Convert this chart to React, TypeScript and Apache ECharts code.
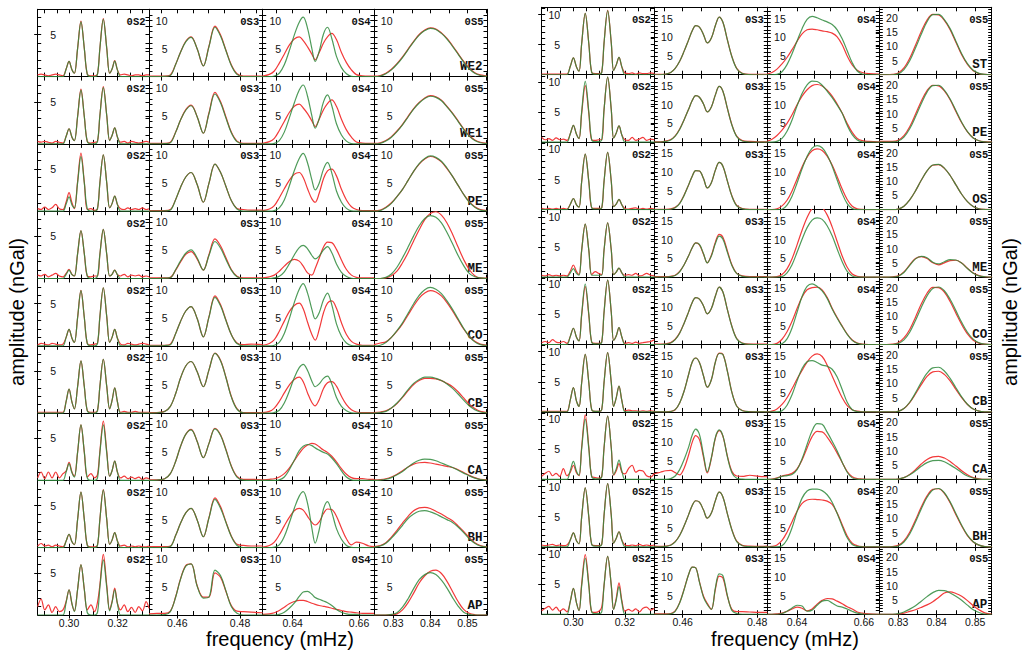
import React, { useEffect, useRef } from "react";
import * as echarts from "echarts";

// ---------- frequency grids (mHz), one per block and column ----------
const L_F2 = [0.2871,0.2885,0.2900,0.2915,0.2930,0.2945,0.2960,0.2975,0.2988,0.3000,0.3012,0.3022,0.3035,0.3049,0.3063,0.3075,0.3090,0.3105,0.3117,0.3127,0.3141,0.3155,0.3167,0.3177,0.3188,0.3199,0.3212,0.3227,0.3242,0.3257,0.3272,0.3287,0.3302,0.3317,0.3329];
const L_F3 = [0.4510,0.4535,0.4560,0.4578,0.4595,0.4610,0.4627,0.4644,0.4663,0.4683,0.4701,0.4720,0.4738,0.4755,0.4772,0.4790,0.4810,0.4835,0.4872];
const L_F4 = [0.6310,0.6330,0.6345,0.6360,0.6375,0.6390,0.6405,0.6420,0.6432,0.6445,0.6458,0.6468,0.6480,0.6493,0.6505,0.6518,0.6532,0.6547,0.6562,0.6577,0.6592,0.6610,0.6630,0.6645];
const L_F5 = [0.8248,0.8265,0.8280,0.8295,0.8310,0.8325,0.8340,0.8355,0.8370,0.8385,0.8400,0.8415,0.8430,0.8445,0.8460,0.8475,0.8490,0.8505,0.8520,0.8535,0.8553];
const R_F2 = [0.2877,0.2891,0.2905,0.2919,0.2933,0.2947,0.2961,0.2975,0.2988,0.3000,0.3012,0.3022,0.3032,0.3046,0.3060,0.3071,0.3085,0.3099,0.3110,0.3119,0.3133,0.3147,0.3156,0.3166,0.3177,0.3188,0.3200,0.3214,0.3228,0.3242,0.3256,0.3270,0.3284,0.3299,0.3314];
const R_F3 = [0.4524,0.4540,0.4555,0.4568,0.4580,0.4592,0.4604,0.4616,0.4626,0.4635,0.4645,0.4656,0.4666,0.4677,0.4688,0.4698,0.4708,0.4720,0.4732,0.4745,0.4760,0.4780,0.4805,0.4827];
const R_F4 = [0.6311,0.6325,0.6340,0.6355,0.6370,0.6385,0.6400,0.6415,0.6430,0.6445,0.6460,0.6475,0.6490,0.6505,0.6520,0.6535,0.6550,0.6565,0.6580,0.6595,0.6615,0.6646];
const R_F5 = [0.8251,0.8270,0.8285,0.8300,0.8315,0.8330,0.8345,0.8360,0.8375,0.8390,0.8405,0.8420,0.8435,0.8450,0.8465,0.8480,0.8495,0.8510,0.8525,0.8543];

// ---------- labels ----------
const LEFT_STATIONS = ["WE2","WE1","PE","ME","CO","CB","CA","BH","AP"];
const RIGHT_STATIONS = ["ST","PE","OS","ME","CO","CB","CA","BH","AP"];
const MODE_LABELS = ["0S2","0S3","0S4","0S5"];
const X_TICK_LABELS = [[0.30,0.32],[0.46,0.48],[0.64,0.66],[0.83,0.84,0.85]];
const LEFT_Y_LABELS = [[5],[5,10],[5,10],[5,10]];
const RIGHT_Y_LABELS = [[5,10],[5,10,15],[5,10,15],[5,10,15,20]];
const LEFT_X_RANGES = [[0.2871,0.3329],[0.4510,0.4872],[0.6310,0.6645],[0.8248,0.8553]];
const RIGHT_X_RANGES = [[0.2877,0.3314],[0.4524,0.4827],[0.6311,0.6646],[0.8251,0.8543]];
const LEFT_Y_MAX = [8,12,12,12];
const RIGHT_Y_MAX = [11.2,18,18,23.7];

// ---------- LEFT block, 0S2 ----------
const L_WE2_OS2_g = [0,0,0,0,0,0,0,0,0.9,1.8,0.8,0.4,3.3,6.5,3.3,0.3,0,0,0.3,3.4,6.8,3.4,0.4,0.9,1.85,0.8,0,0,0,0,0,0,0,0,0];
const L_WE2_OS2_r = [0.2,0.3,0.2,0.1,0.2,0.3,0.2,0.1,0.9,1.8,0.8,0.4,3.3,6.6,3.3,0.3,0.1,0.1,0.3,3.4,6.9,3.4,0.4,0.9,1.9,0.8,0.2,0.3,0.2,0.1,0.2,0.2,0.1,0.2,0.2];
const L_WE1_OS2_g = [0,0,0,0,0,0,0,0,0.9,1.8,0.8,0.4,3.2,6.4,3.2,0.3,0,0,0.3,3.4,6.7,3.4,0.4,1.0,1.9,0.85,0,0,0,0,0,0,0,0,0];
const L_WE1_OS2_r = [0.3,0.2,0.3,0.2,0.1,0.3,0.2,0.1,0.9,1.8,0.8,0.4,3.2,6.5,3.2,0.3,0.1,0.2,0.3,3.4,6.8,3.4,0.4,1.0,1.9,0.8,0.2,0.3,0.1,0.3,0.2,0.1,0.2,0.3,0.2];
const L_PE_OS2_g = [0,0,0,0,0,0,0,0,0.85,1.7,0.75,0.4,3.3,6.5,3.3,0.3,0,0,0.3,3.4,6.7,3.4,0.4,0.9,1.8,0.8,0,0,0,0,0,0,0,0,0];
const L_PE_OS2_r = [0.3,0.2,0.5,0.2,0.4,0.8,0.3,0.2,1.1,2.2,1.0,0.3,3.5,6.9,3.4,0.2,0.3,0.1,0.3,3.4,6.7,3.4,0.4,0.9,1.8,0.8,0.3,0.2,0.4,0.2,0.3,0.2,0.4,0.2,0.3];
const L_ME_OS2_g = [0,0,0,0,0,0,0,0,0.5,1.0,0.45,0.3,2.9,5.7,2.9,0.3,0,0,0.3,2.9,5.85,2.9,0.3,0.5,1.0,0.45,0,0,0,0,0,0,0,0,0];
const L_ME_OS2_r = [0.4,0.3,0.5,0.2,0.4,0.6,0.3,0.2,0.6,1.1,0.5,0.3,2.9,5.7,2.9,0.3,0.2,0.3,0.3,2.9,5.85,2.9,0.3,0.5,1.0,0.45,0.3,0.5,0.2,0.4,0.3,0.4,0.2,0.3,0.2];
const L_CO_OS2_g = [0,0,0,0,0,0,0,0,1.0,1.95,0.9,0.4,3.3,6.55,3.3,0.3,0,0,0.3,3.5,6.9,3.5,0.4,1.0,1.95,0.9,0,0,0,0,0,0,0,0,0];
const L_CO_OS2_r = [0.1,0.3,0.2,0.1,0.3,0.2,0.1,0.2,1.0,1.95,0.9,0.4,3.3,6.6,3.3,0.3,0.1,0.2,0.3,3.5,6.9,3.5,0.4,1.0,1.95,0.9,0.2,0.1,0.3,0.2,0.1,0.2,0.3,0.2,0.1];
const L_CB_OS2_g = [0,0,0,0,0,0,0,0,1.4,2.85,1.3,0.5,3.1,6.2,3.1,0.3,0,0,0.3,3.2,6.4,3.2,0.5,1.5,3.0,1.35,0,0,0,0,0,0,0,0,0];
const L_CB_OS2_r = [0.1,0.1,0.1,0.1,0.1,0.1,0.1,0.1,1.4,2.85,1.3,0.5,3.1,6.2,3.1,0.3,0.1,0.1,0.3,3.2,6.4,3.2,0.5,1.5,3.0,1.35,0.1,0.2,0.1,0.1,0.2,0.1,0.1,0.1,0.1];
const L_CA_OS2_g = [0,0,0,0,0,0,0,0,1.0,2.0,0.9,0.4,3.3,6.6,3.3,0.3,0,0,0.3,3.3,6.6,3.3,0.5,1.15,2.3,1.0,0,0,0,0,0,0,0,0,0];
const L_CA_OS2_r = [0.3,1.0,0.2,1.0,0.3,1.0,0.3,0.8,1.1,2.15,1.0,0.5,3.3,6.6,3.3,0.4,0.8,0.3,0.7,3.5,7.05,3.5,0.5,1.15,2.3,1.0,0.3,0.5,0.2,0.4,0.2,0.4,0.1,0.3,0.2];
const L_BH_OS2_g = [0,0,0,0,0,0,0,0,0.8,1.6,0.7,0.35,3.3,6.6,3.3,0.3,0,0,0.3,3.4,6.85,3.4,0.4,0.9,1.8,0.8,0,0,0,0,0,0,0,0,0];
const L_BH_OS2_r = [0.2,0.5,0.2,0.3,0.1,0.3,0.2,0.1,0.8,1.6,0.7,0.35,3.3,6.6,3.3,0.3,0.1,0.1,0.3,3.4,6.9,3.4,0.4,0.9,1.8,0.8,0.2,0.3,0.1,0.2,0.1,0.2,0.1,0.1,0.2];
const L_AP_OS2_g = [0,0,0,0,0,0,0,0,1.5,3.0,1.35,0.4,3.0,6.0,3.0,0.3,0,0,0.3,3.3,6.55,3.3,0.5,1.5,3.0,1.35,0,0,0,0,0,0,0,0,0];
const L_AP_OS2_r = [1.0,1.9,0.6,1.2,0.3,1.0,0.4,0.6,1.6,3.0,1.3,0.5,3.0,6.0,3.0,0.6,1.2,0.4,1.5,3.6,7.2,3.6,0.6,1.6,3.2,1.4,0.6,1.2,0.4,0.9,0.3,1.0,0.5,1.6,0.8];

// ---------- LEFT block, 0S3 ----------
const L_WE2_OS3_g = [0,0,0.05,0.2,2.2,4.3,6.2,7.0,5.0,1.9,5.35,8.8,7.2,4.6,2.0,0.4,0,0,0];
const L_WE2_OS3_r = [0.1,0.1,0.1,0.3,2.2,4.3,6.3,7.1,5.0,1.9,5.45,9.0,7.4,4.7,2.1,0.5,0.1,0.1,0.1];
const L_WE1_OS3_g = [0,0,0.05,0.2,2.1,4.2,6.0,6.8,4.9,1.9,5.4,8.9,7.3,4.6,2.0,0.4,0,0,0];
const L_WE1_OS3_r = [0.1,0.1,0.1,0.3,2.1,4.2,6.1,6.9,4.9,1.9,5.55,9.2,7.5,4.8,2.1,0.5,0.1,0.1,0.1];
const L_PE_OS3_g = [0,0,0.05,0.2,2.1,4.2,6.1,6.9,4.8,1.6,5.0,8.4,6.9,4.4,1.9,0.4,0,0,0];
const L_PE_OS3_r = [0.1,0.1,0.1,0.3,2.1,4.2,6.1,6.9,4.8,1.6,5.0,8.4,6.9,4.4,1.9,0.5,0.3,0.2,0.2];
const L_ME_OS3_g = [0,0,0.05,0.15,1.6,3.1,4.5,5.1,3.7,1.5,4.1,6.6,5.4,3.4,1.5,0.3,0,0,0];
const L_ME_OS3_r = [0.1,0.1,0.1,0.2,1.5,2.9,4.3,4.8,3.5,1.5,4.3,7.05,5.8,3.7,1.6,0.4,0.1,0.1,0.1];
const L_CO_OS3_g = [0,0,0.05,0.2,2.2,4.3,6.2,7.0,4.9,1.6,5.1,8.65,7.1,4.5,2.0,0.4,0,0,0];
const L_CO_OS3_r = [0.1,0.1,0.1,0.3,2.2,4.3,6.2,7.0,4.9,1.6,5.2,8.9,7.3,4.6,2.0,0.5,0.2,0.3,0.2];
const L_CB_OS3_g = [0,0.05,0.3,1.2,3.5,6.2,8.4,9.2,7.4,4.7,7.7,10.65,9.3,6.3,2.9,0.7,0.05,0,0];
const L_CB_OS3_r = [0.1,0.1,0.3,1.2,3.5,6.2,8.4,9.2,7.4,4.7,7.7,10.7,9.4,6.4,3.0,0.8,0.1,0.1,0.1];
const L_CA_OS3_g = [0,0.05,0.3,1.2,3.4,6.0,8.2,9.0,7.0,4.05,6.6,9.2,8.0,5.4,2.5,0.6,0.05,0,0];
const L_CA_OS3_r = [0.1,0.1,0.3,1.2,3.4,6.0,8.2,9.1,7.0,4.05,6.6,9.3,8.1,5.5,2.6,0.7,0.2,0.2,0.1];
const L_BH_OS3_g = [0,0,0.05,0.2,2.2,4.3,6.2,7.0,5.0,1.95,5.3,8.6,7.0,4.5,2.0,0.4,0,0,0];
const L_BH_OS3_r = [0.2,0.2,0.2,0.3,2.2,4.3,6.2,7.0,5.0,1.95,5.4,8.9,7.3,4.6,2.1,0.6,0.4,0.3,0.3];
const L_AP_OS3_g = [0,0,0.05,0.6,3.2,6.3,8.7,9.1,5.2,3.0,3.2,8.0,7.0,4.3,1.5,0.3,0,0,0];
const L_AP_OS3_r = [0.2,0.3,0.3,0.7,3.3,6.4,8.8,9.1,5.3,3.2,3.2,7.5,6.7,4.2,1.7,0.7,0.6,0.5,0.4];

// ---------- LEFT block, 0S4 ----------
const L_WE2_OS4_g = [0,0,0.1,0.6,2.1,4.6,7.4,9.7,10.6,8.6,5.0,2.7,4.5,7.6,8.8,6.8,3.6,1.6,0.5,0.05,0,0,0,0];
const L_WE2_OS4_r = [0.1,0.4,1.0,2.4,4.0,5.6,6.7,7.1,6.4,5.3,4.0,3.0,4.3,6.0,7.1,7.7,6.6,4.3,2.5,1.2,0.35,0.15,0.1,0.1];
const L_WE1_OS4_g = [0,0,0.1,0.6,2.1,4.6,7.3,9.6,10.5,8.5,5.0,2.8,4.5,7.5,8.75,6.8,3.6,1.6,0.5,0.05,0,0,0,0];
const L_WE1_OS4_r = [0.1,0.4,1.0,2.4,4.0,5.6,6.7,7.1,6.4,5.4,4.1,3.1,4.4,6.1,7.2,7.85,6.7,4.4,2.5,1.2,0.35,0.15,0.1,0.1];
const L_PE_OS4_g = [0,0,0.1,0.6,2.0,4.5,7.2,9.4,10.3,8.6,5.6,3.8,5.0,7.5,8.7,6.8,3.6,1.6,0.5,0.05,0,0,0,0];
const L_PE_OS4_r = [0.1,0.4,1.0,2.4,4.0,5.5,6.6,6.9,6.0,4.0,2.2,1.6,3.2,5.8,7.2,7.5,6.3,3.9,2.0,0.8,0.3,0.1,0.1,0.1];
const L_ME_OS4_g = [0,0,0.1,0.4,1.2,2.6,4.2,5.5,5.9,5.3,4.1,3.5,4.0,5.1,5.7,4.6,2.6,1.1,0.35,0.05,0,0,0,0];
const L_ME_OS4_r = [0.1,0.3,0.6,1.3,2.2,3.0,3.4,3.1,2.2,1.0,0.6,1.8,3.6,5.6,6.5,6.4,5.2,3.3,1.6,0.6,0.2,0.1,0.1,0.1];
const L_CO_OS4_g = [0,0,0.1,0.6,2.2,4.8,7.7,10.1,11.1,9.4,6.5,4.8,5.9,8.2,9.4,7.3,3.9,1.7,0.5,0.05,0,0,0,0];
const L_CO_OS4_r = [0.1,0.4,1.1,2.6,4.4,6.1,7.2,7.6,6.6,4.2,2.0,1.0,2.9,5.9,7.6,8.0,6.7,4.1,2.0,0.8,0.3,0.1,0.1,0.1];
const L_CB_OS4_g = [0,0,0.1,0.5,1.8,3.9,6.3,8.1,8.7,7.6,5.7,4.7,5.2,6.2,6.6,5.2,2.8,1.2,0.4,0.05,0,0,0,0];
const L_CB_OS4_r = [0.1,0.3,0.9,2.1,3.6,5.0,6.0,6.4,5.6,3.6,1.9,1.3,2.4,4.4,5.4,5.6,4.8,3.0,1.5,0.6,0.2,0.1,0.1,0.1];
const L_CA_OS4_g = [0,0,0,0.1,0.6,1.9,3.6,5.3,6.1,6.4,6.2,5.8,5.4,5.0,4.7,4.0,3.0,1.7,0.6,0.1,0,0,0,0];
const L_CA_OS4_r = [0.1,0.2,0.3,0.6,1.2,2.2,3.5,4.8,5.7,6.3,6.6,6.5,6.0,5.4,5.0,4.3,3.3,2.1,1.1,0.5,0.3,0.3,0.2,0.2];
const L_BH_OS4_g = [0,0,0.1,0.5,2.0,4.4,7.0,9.2,10.0,7.9,3.5,0.8,3.2,6.9,8.2,6.3,3.4,1.5,0.4,0.05,0,0,0,0];
const L_BH_OS4_r = [0.1,0.4,1.0,2.3,3.9,5.4,6.6,7.0,6.7,5.6,4.5,4.05,4.6,6.1,6.9,6.8,5.6,3.5,1.6,0.5,1.0,0.8,0.3,0.2];
const L_AP_OS4_g = [0,0,0,0.1,0.5,1.2,2.1,3.3,4.1,4.2,3.7,3.1,2.8,2.5,2.2,1.7,1.0,0.5,0.2,0.1,0.1,0,0,0];
const L_AP_OS4_r = [0.1,0.2,0.4,0.8,1.4,2.0,2.4,2.6,2.6,2.4,2.1,1.9,1.7,1.55,1.4,1.2,1.0,0.8,0.6,0.5,0.4,0.3,0.3,0.3];

// ---------- LEFT block, 0S5 ----------
const L_WE2_OS5_g = [0,0.1,0.5,1.2,2.2,3.4,4.8,6.2,7.4,8.2,8.6,8.4,7.7,6.7,5.4,4.0,2.6,1.4,0.6,0.2,0.05];
const L_WE2_OS5_r = [0.1,0.2,0.6,1.3,2.3,3.5,4.9,6.3,7.5,8.3,8.7,8.5,7.8,6.8,5.5,4.1,2.7,1.5,0.7,0.3,0.1];
const L_WE1_OS5_g = [0,0.1,0.5,1.2,2.2,3.4,4.8,6.2,7.3,8.1,8.5,8.3,7.7,6.6,5.4,4.0,2.6,1.4,0.6,0.2,0.05];
const L_WE1_OS5_r = [0.1,0.2,0.6,1.3,2.3,3.5,4.9,6.3,7.4,8.2,8.6,8.4,7.8,6.7,5.5,4.1,2.7,1.5,0.7,0.3,0.1];
const L_PE_OS5_g = [0,0.1,0.6,1.4,2.6,3.9,5.5,7.1,8.5,9.4,9.85,9.6,8.9,7.7,6.2,4.6,3.0,1.6,0.7,0.2,0.05];
const L_PE_OS5_r = [0.1,0.2,0.7,1.5,2.6,3.9,5.5,7.1,8.4,9.3,9.75,9.5,8.8,7.6,6.2,4.6,3.0,1.7,0.8,0.3,0.1];
const L_ME_OS5_g = [0,0,0.2,0.8,2.0,3.7,5.6,7.6,9.4,10.7,11.2,10.9,9.9,8.2,6.2,4.1,2.3,0.9,0.3,0.1,0];
const L_ME_OS5_r = [0,0,0.1,0.5,1.3,2.8,4.6,6.7,8.7,10.5,11.6,11.9,11.3,9.9,7.9,5.6,3.4,1.6,0.5,0.1,0.05];
const L_CO_OS5_g = [0,0.1,0.6,1.5,2.7,4.1,5.8,7.5,9.0,10.0,10.4,10.1,9.3,8.0,6.5,4.8,3.1,1.7,0.7,0.2,0.05];
const L_CO_OS5_r = [0.2,0.5,0.7,1.5,2.6,3.9,5.5,7.1,8.5,9.4,9.85,9.6,8.9,7.7,6.2,4.6,3.0,1.7,0.8,0.3,0.1];
const L_CB_OS5_g = [0,0.1,0.3,0.9,1.8,2.9,4.2,5.3,6.0,6.4,6.4,6.2,5.8,5.2,4.4,3.4,2.3,1.3,0.6,0.2,0.05];
const L_CB_OS5_r = [0.1,0.2,0.4,0.9,1.7,2.8,4.0,5.1,5.8,6.2,6.2,6.1,5.8,5.3,4.7,3.8,2.7,1.6,0.8,0.3,0.1];
const L_CA_OS5_g = [0,0.05,0.2,0.5,1.0,1.6,2.4,3.1,3.6,3.8,3.75,3.5,3.1,2.7,2.3,1.8,1.3,0.8,0.4,0.15,0.05];
const L_CA_OS5_r = [0.1,0.15,0.3,0.6,1.1,1.7,2.4,2.9,3.15,3.2,3.1,2.9,2.7,2.5,2.3,1.9,1.4,0.9,0.5,0.2,0.1];
const L_BH_OS5_g = [0.1,0.3,0.8,1.7,2.8,4.0,5.2,6.0,6.5,6.6,6.4,6.0,5.5,5.0,4.5,3.7,2.7,1.6,0.8,0.3,0.1];
const L_BH_OS5_r = [0.2,0.4,0.9,1.9,3.1,4.4,5.6,6.6,7.1,7.2,7.0,6.5,6.0,5.4,4.8,3.9,2.9,1.8,0.9,0.4,0.15];
const L_AP_OS5_g = [0,0,0,0.1,0.4,1.4,2.9,4.7,6.3,7.2,7.55,7.2,6.2,4.8,3.1,1.6,0.5,0.1,0,0,0];
const L_AP_OS5_r = [0,0,0,0.05,0.2,0.9,2.2,3.9,5.7,7.0,7.8,8.0,7.4,6.0,4.2,2.4,1.0,0.3,0.05,0,0];

// ---------- RIGHT block, 0S2 ----------
const R_ST_OS2_g = [0,0,0,0,0,0,0,0,1.4,2.8,1.3,0.6,5.1,10.2,5.1,0.4,0.1,0.1,0.4,5.3,10.6,5.3,0.7,1.6,2.9,1.3,0,0,0,0,0,0,0,0,0];
const R_ST_OS2_r = [0.1,0.1,0.1,0.1,0.1,0.1,0.1,0.1,1.4,2.8,1.3,0.6,5.1,10.2,5.1,0.4,0.2,0.2,0.4,5.3,10.7,5.3,0.7,1.6,2.9,1.3,0.3,0.2,0.3,0.1,0.3,0.2,0.2,0.3,0.2];
const R_PE_OS2_g = [0,0,0,0,0,0,0,0,1.4,2.8,1.3,0.6,5.0,10.1,5.0,0.4,0.1,0.1,0.4,5.4,10.8,5.4,0.7,1.5,2.7,1.2,0,0,0,0,0,0,0,0,0];
const R_PE_OS2_r = [0.8,0.4,0.6,0.3,0.7,0.4,0.5,0.3,1.4,2.8,1.3,0.6,4.7,9.4,4.7,0.4,0.3,0.4,0.4,5.4,10.8,5.4,0.7,1.5,2.7,1.2,0.4,0.3,0.8,0.3,0.5,0.8,0.3,0.5,0.4];
const R_OS_OS2_g = [0,0,0,0,0,0,0,0,0.9,1.85,0.8,0.4,4.6,9.2,4.6,0.3,0.1,0.1,0.3,4.7,9.5,4.7,0.5,0.9,1.7,0.8,0,0,0,0,0,0,0,0,0];
const R_OS_OS2_r = [0.2,0.1,0.2,0.1,0.2,0.1,0.2,0.1,0.9,1.85,0.8,0.4,4.6,9.2,4.6,0.3,0.2,0.2,0.3,4.7,9.5,4.7,0.5,0.9,1.7,0.8,0.2,0.1,0.2,0.3,0.1,0.2,0.1,0.2,0.1];
const R_ME_OS2_g = [0,0,0,0,0,0,0,0,0.7,1.4,0.6,0.3,4.4,8.8,4.4,0.3,0.3,0.3,0.3,4.5,9.0,4.5,0.4,0.8,1.5,0.7,0,0,0,0,0,0,0,0,0];
const R_ME_OS2_r = [0.3,0.2,0.4,0.2,0.3,0.2,0.3,0.2,1.0,2.0,0.9,0.4,4.4,8.8,4.4,0.4,0.9,0.6,0.4,4.5,9.0,4.5,0.4,0.8,1.5,0.7,0.3,0.4,0.3,0.6,0.2,0.3,0.6,0.3,0.2];
const R_CO_OS2_g = [0,0,0,0,0,0,0,0,1.35,2.7,1.2,0.6,5.0,10.05,5.0,0.4,0.1,0.1,0.4,5.35,10.7,5.35,0.7,1.4,2.8,1.25,0,0,0,0,0,0,0,0,0];
const R_CO_OS2_r = [0.3,0.5,0.3,0.8,0.4,0.3,0.5,0.2,1.35,2.7,1.2,0.6,4.8,9.6,4.8,0.4,0.2,0.2,0.4,5.35,10.7,5.35,0.7,1.4,2.8,1.25,0.2,0.3,0.2,0.4,0.2,0.3,0.4,0.5,0.8];
const R_CB_OS2_g = [0,0,0,0,0,0,0,0,2.0,4.05,1.8,0.9,4.8,9.55,4.8,0.4,0.1,0.1,0.4,4.9,9.85,4.9,0.9,2.3,4.3,1.9,0,0,0,0,0,0,0,0,0];
const R_CB_OS2_r = [0.1,0.1,0.1,0.1,0.1,0.1,0.1,0.1,2.0,4.05,1.8,0.9,4.8,9.55,4.8,0.4,0.1,0.1,0.4,4.9,9.85,4.9,0.9,2.3,4.3,1.9,0.2,0.3,0.2,0.2,0.1,0.2,0.1,0.2,0.1];
const R_CA_OS2_g = [0,0,0,0,0,0,0,0,1.5,3.0,1.35,0.7,5.0,10.0,5.0,0.4,0.1,0.1,0.4,5.25,10.5,5.25,0.8,1.7,3.2,1.4,0,0,0,0,0,0,0,0,0];
const R_CA_OS2_r = [0.5,1.0,1.35,0.6,1.0,0.5,1.8,0.6,1.2,2.35,1.1,0.6,5.3,10.7,5.3,0.5,0.3,0.2,0.5,5.25,10.5,5.25,0.7,1.4,2.6,1.2,0.9,1.8,2.35,1.2,1.5,1.4,0.6,0.4,1.0];
const R_BH_OS2_g = [0,0,0,0,0,0,0,0,1.15,2.3,1.0,0.5,4.9,9.8,4.9,0.4,0.1,0.1,0.4,5.25,10.5,5.25,0.6,1.4,2.5,1.1,0,0,0,0,0,0,0,0,0];
const R_BH_OS2_r = [0.3,0.2,0.3,0.4,0.2,0.3,0.2,0.3,1.15,2.3,1.0,0.5,4.9,9.8,4.9,0.4,0.2,0.2,0.4,5.25,10.5,5.25,0.6,1.4,2.5,1.1,0.3,0.2,0.3,0.2,0.4,0.2,0.3,0.2,0.3];
const R_AP_OS2_g = [0,0,0,0,0,0,0,0,2.15,4.3,1.9,0.6,4.65,9.3,4.65,0.4,0.1,0.1,0.4,4.8,9.6,4.8,0.8,2.3,4.6,2.0,0,0,0,0,0,0,0,0,0];
const R_AP_OS2_r = [0.6,1.0,1.3,0.7,1.2,0.5,0.9,0.4,2.15,4.3,1.9,0.6,5.0,9.9,4.95,0.4,0.3,0.5,1.2,4.8,9.6,4.8,0.8,2.6,5.2,2.3,0.5,0.8,0.5,0.9,0.4,1.0,1.2,0.7,1.0];

// ---------- RIGHT block, 0S3 ----------
const R_ST_OS3_g = [0,0,0.2,0.6,1.7,3.6,6.3,9.3,11.8,13.1,12.7,10.7,8.5,9.8,13.2,15.4,14.0,9.3,4.8,1.6,0.3,0.05,0,0];
const R_ST_OS3_r = [0.1,0.1,0.2,0.6,1.7,3.6,6.3,9.3,11.8,13.1,12.7,10.7,8.5,9.8,13.2,15.4,14.0,9.3,4.9,1.7,0.4,0.1,0.1,0.1];
const R_PE_OS3_g = [0,0,0.2,0.6,1.6,3.4,6.0,8.8,11.2,12.4,12.0,10.2,8.1,9.4,12.7,14.9,13.6,9.0,4.6,1.5,0.3,0.05,0,0];
const R_PE_OS3_r = [0.1,0.1,0.3,0.7,1.7,3.5,6.0,8.8,11.2,12.4,12.0,10.2,8.1,9.4,12.7,14.9,13.6,9.0,4.7,1.6,0.4,0.2,0.1,0.1];
const R_OS_OS3_g = [0,0,0,0.1,0.5,1.6,3.8,6.6,9.0,10.4,10.3,8.3,5.8,7.2,10.6,12.6,11.6,7.6,3.6,1.0,0.2,0,0,0];
const R_OS_OS3_r = [0.1,0.1,0.1,0.2,0.6,1.7,3.9,6.6,9.0,10.4,10.3,8.3,5.8,7.2,10.6,12.6,11.6,7.6,3.7,1.1,0.3,0.1,0.1,0.1];
const R_ME_OS3_g = [0,0,0,0.1,0.4,1.4,3.3,5.7,7.9,9.1,8.7,6.2,3.8,5.6,9.0,10.9,10.1,6.6,3.1,0.9,0.2,0,0,0];
const R_ME_OS3_r = [0.1,0.1,0.1,0.2,0.5,1.5,3.3,5.7,7.9,9.1,8.6,6.1,3.8,5.8,9.4,11.4,10.6,7.0,3.3,1.0,0.3,0.1,0.1,0.1];
const R_CO_OS3_g = [0,0,0.1,0.4,1.3,3.0,5.7,8.7,11.3,12.5,12.1,10.3,8.2,9.6,13.0,15.3,14.0,9.3,4.8,1.5,0.3,0.05,0,0];
const R_CO_OS3_r = [0.1,0.1,0.2,0.5,1.4,3.1,5.7,8.7,11.3,12.5,12.1,10.3,8.2,9.6,13.0,15.3,14.0,9.3,4.9,1.6,0.4,0.1,0.1,0.1];
const R_CB_OS3_g = [0,0,0,0.1,0.6,2.4,5.6,10.0,13.4,14.4,13.2,9.6,6.6,8.6,13.4,15.6,15.3,10.8,5.2,1.5,0.3,0.05,0,0];
const R_CB_OS3_r = [0.05,0.05,0.05,0.15,0.6,2.4,5.6,10.0,13.4,14.4,13.2,9.6,6.6,8.6,13.4,15.7,15.4,10.9,5.3,1.6,0.4,0.1,0.05,0.05];
const R_CA_OS3_g = [0,0,0,0.2,0.9,2.6,5.3,8.6,11.9,13.4,12.0,6.5,2.0,5.8,11.3,13.2,11.6,6.0,1.8,0.3,0.05,0,0,0];
const R_CA_OS3_r = [1.5,1.9,2.3,2.4,1.8,1.2,3.0,6.5,10.0,11.7,10.6,5.9,1.7,5.6,11.1,13.0,11.5,6.2,2.2,0.9,0.8,1.1,0.8,0.7];
const R_BH_OS3_g = [0,0,0.1,0.4,1.3,3.0,5.6,8.6,11.1,12.3,11.9,9.8,7.65,9.0,12.4,14.6,13.3,8.8,4.5,1.4,0.3,0.05,0,0];
const R_BH_OS3_r = [0.2,0.1,0.2,0.5,1.4,3.1,5.6,8.6,11.1,12.3,11.9,9.8,7.65,9.0,12.4,14.6,13.3,8.8,4.6,1.5,0.4,0.2,0.1,0.2];
const R_AP_OS3_g = [0,0,0,0.1,0.8,3.0,6.6,10.6,12.6,12.4,8.6,4.5,2.6,1.3,7.2,10.8,10.3,5.0,1.0,0.2,0,0,0,0];
const R_AP_OS3_r = [0.1,0.1,0.1,0.2,0.9,3.1,6.7,10.6,12.6,12.4,8.7,4.8,2.9,1.3,6.8,10.2,9.7,4.8,1.3,0.7,0.7,0.6,0.5,0.5];

// ---------- RIGHT block, 0S4 ----------
const R_ST_OS4_g = [0,0,0.1,0.8,2.7,5.6,9.0,12.3,14.8,15.6,15.2,14.6,14.1,13.4,12.0,9.6,6.4,3.2,1.0,0.2,0,0];
const R_ST_OS4_r = [0.2,0.6,1.5,2.9,4.6,6.7,8.9,10.9,12.0,12.2,12.0,11.7,11.5,11.1,10.1,8.0,5.0,2.6,1.2,0.6,0.3,0.2];
const R_PE_OS4_g = [0,0,0.2,1.0,2.9,5.9,9.7,13.0,15.3,16.3,16.2,15.2,13.6,11.9,9.9,7.7,4.5,2.0,0.6,0.1,0,0];
const R_PE_OS4_r = [0.3,0.8,1.8,3.2,5.0,7.3,10.0,12.3,14.0,15.1,15.4,15.0,13.9,12.3,10.2,7.8,5.0,2.6,1.0,0.4,0.2,0.1];
const R_OS_OS4_g = [0,0,0,0.1,1.2,3.6,7.1,10.9,14.2,16.4,17.1,16.5,14.6,11.6,7.9,4.3,1.6,0.3,0,0,0,0];
const R_OS_OS4_r = [0,0,0.2,1.0,2.5,5.0,8.2,11.4,14.0,15.7,16.2,15.8,14.3,11.9,8.8,5.5,2.7,0.9,0.2,0.05,0,0];
const R_ME_OS4_g = [0,0,0,0.1,1.1,3.3,6.6,10.1,13.2,15.2,15.8,15.4,13.7,11.0,7.5,4.1,1.5,0.3,0,0,0,0];
const R_ME_OS4_r = [0,0,0.1,0.7,2.2,4.9,8.6,12.5,15.9,18.3,19.2,18.6,16.6,13.4,9.5,5.6,2.6,0.8,0.2,0.05,0,0];
const R_CO_OS4_g = [0,0,0,0.2,1.5,4.4,8.6,12.8,15.5,16.2,15.5,14.3,12.3,9.5,7.0,4.8,2.7,1.1,0.3,0.05,0,0];
const R_CO_OS4_r = [0,0,0.3,1.4,3.4,6.2,9.6,12.7,14.6,15.2,15.3,14.6,12.6,9.7,7.2,4.9,2.8,1.2,0.4,0.1,0,0];
const R_CB_OS4_g = [0,0,0,0.3,1.8,4.6,8.3,11.6,13.4,13.7,13.2,12.5,12.2,11.4,9.3,6.0,2.6,0.6,0.1,0,0,0];
const R_CB_OS4_r = [0,0.2,0.8,2.0,3.8,6.2,8.8,11.1,13.3,14.9,15.5,14.8,12.5,9.6,6.6,3.8,1.7,0.6,0.2,0.05,0,0];
const R_CA_OS4_g = [0,0,0.3,0.8,1.0,1.3,2.6,5.5,9.3,13.0,14.9,14.7,12.6,10.2,7.6,4.6,1.9,0.4,0.05,0,0,0];
const R_CA_OS4_r = [0,0.1,0.4,0.9,1.2,1.6,2.8,5.2,8.4,11.4,12.8,12.7,11.3,9.3,7.0,4.5,2.1,0.7,0.2,0.1,0,0];
const R_BH_OS4_g = [0,0,0,0.3,1.9,5.1,9.4,13.0,14.9,15.4,15.4,15.0,13.9,11.9,8.9,5.5,2.4,0.6,0.1,0,0,0];
const R_BH_OS4_r = [0,0.1,0.5,1.7,3.9,6.7,9.5,11.6,12.5,12.7,12.6,12.5,12.2,11.3,9.0,5.9,2.9,1.0,0.3,0.05,0,0];
const R_AP_OS4_g = [0,0,0,0.2,0.8,1.7,2.4,2.2,0.8,1.1,2.4,3.5,3.7,3.0,2.2,1.9,1.4,0.8,0.3,0.05,0,0];
const R_AP_OS4_r = [0,0,0.1,0.3,0.8,1.4,1.9,1.6,0.9,1.4,2.7,3.7,4.2,4.1,3.5,2.8,2.0,1.4,0.6,0.3,0.1,0];

// ---------- RIGHT block, 0S5 ----------
const R_ST_OS5_g = [0,0,0,0.3,1.8,4.9,9.4,14.2,18.6,21.1,21.2,19.4,16.2,11.8,7.4,3.9,1.6,0.5,0.1,0];
const R_ST_OS5_r = [0,0,0.1,0.6,2.4,5.8,10.4,15.2,19.2,21.2,21.0,19.1,15.8,11.4,7.0,3.6,1.4,0.4,0.1,0];
const R_PE_OS5_g = [0,0,0.1,0.4,1.8,4.7,8.9,13.5,17.6,19.9,20.0,18.3,15.2,11.1,7.0,3.7,1.5,0.5,0.1,0];
const R_PE_OS5_r = [0.3,0.3,0.3,0.7,2.3,5.4,9.8,14.4,18.1,20.0,19.8,18.0,14.9,10.8,6.8,3.6,1.5,0.5,0.2,0.1];
const R_OS_OS5_g = [0,0,0,0.2,1.2,3.4,6.6,10.3,13.6,15.7,15.9,14.6,12.0,8.7,5.4,2.8,1.1,0.3,0.05,0];
const R_OS_OS5_r = [0,0,0,0.2,1.2,3.4,6.6,10.3,13.6,15.6,15.8,14.5,12.0,8.7,5.4,2.8,1.1,0.3,0.1,0.05];
const R_ME_OS5_g = [0,0,0,0.3,1.6,4.1,6.4,7.3,6.8,5.2,4.6,5.4,6.1,6.0,4.9,3.0,1.3,0.4,0.1,0];
const R_ME_OS5_r = [0,0,0.1,0.4,1.8,4.3,6.5,7.2,6.5,5.0,4.3,5.0,5.8,5.9,4.9,3.1,1.4,0.5,0.1,0];
const R_CO_OS5_g = [0,0,0,0.3,1.6,4.3,8.4,13.0,17.1,19.7,20.2,18.9,15.9,11.9,7.8,4.3,1.9,0.6,0.1,0];
const R_CO_OS5_r = [0,0,0.1,0.6,2.3,5.3,9.6,14.2,18.0,20.1,20.0,18.4,15.1,11.0,7.0,3.7,1.5,0.5,0.1,0];
const R_CB_OS5_g = [0,0,0,0.2,1.2,3.4,6.7,10.4,13.6,15.5,15.7,14.4,11.8,8.5,5.3,2.7,1.0,0.3,0.05,0];
const R_CB_OS5_r = [0,0,0,0.2,1.2,3.3,6.3,9.6,12.5,14.1,14.3,13.2,10.9,7.9,5.0,2.6,1.0,0.3,0.05,0];
const R_CA_OS5_g = [0,0,0,0.1,0.6,1.6,3.0,4.6,5.9,6.6,6.7,6.2,5.1,3.8,2.4,1.2,0.5,0.1,0,0];
const R_CA_OS5_r = [0,0,0,0.1,0.6,1.7,3.4,5.4,7.0,7.9,8.1,7.5,6.3,4.7,3.0,1.6,0.6,0.2,0,0];
const R_BH_OS5_g = [0,0,0,0.3,1.7,4.5,8.7,13.3,17.4,20.0,20.5,19.0,15.8,11.7,7.6,4.1,1.8,0.6,0.1,0];
const R_BH_OS5_r = [0,0,0.1,0.5,2.1,5.1,9.4,14.0,17.9,20.2,20.4,18.8,15.5,11.3,7.3,3.9,1.7,0.6,0.1,0];
const R_AP_OS5_g = [0,0,0,0.2,0.8,1.8,3.0,4.6,6.2,7.6,8.4,8.3,7.5,6.3,4.9,3.2,1.6,0.6,0.1,0];
const R_AP_OS5_r = [0,0,0,0.1,0.4,1.0,1.6,2.4,3.3,4.4,5.9,7.5,7.9,7.3,6.3,4.8,3.0,1.6,0.5,0.1];

// ---------- tables built from the arrays above ----------
const LEFT_GREEN = [
  [L_WE2_OS2_g, L_WE2_OS3_g, L_WE2_OS4_g, L_WE2_OS5_g],
  [L_WE1_OS2_g, L_WE1_OS3_g, L_WE1_OS4_g, L_WE1_OS5_g],
  [L_PE_OS2_g, L_PE_OS3_g, L_PE_OS4_g, L_PE_OS5_g],
  [L_ME_OS2_g, L_ME_OS3_g, L_ME_OS4_g, L_ME_OS5_g],
  [L_CO_OS2_g, L_CO_OS3_g, L_CO_OS4_g, L_CO_OS5_g],
  [L_CB_OS2_g, L_CB_OS3_g, L_CB_OS4_g, L_CB_OS5_g],
  [L_CA_OS2_g, L_CA_OS3_g, L_CA_OS4_g, L_CA_OS5_g],
  [L_BH_OS2_g, L_BH_OS3_g, L_BH_OS4_g, L_BH_OS5_g],
  [L_AP_OS2_g, L_AP_OS3_g, L_AP_OS4_g, L_AP_OS5_g],
];
const LEFT_RED = [
  [L_WE2_OS2_r, L_WE2_OS3_r, L_WE2_OS4_r, L_WE2_OS5_r],
  [L_WE1_OS2_r, L_WE1_OS3_r, L_WE1_OS4_r, L_WE1_OS5_r],
  [L_PE_OS2_r, L_PE_OS3_r, L_PE_OS4_r, L_PE_OS5_r],
  [L_ME_OS2_r, L_ME_OS3_r, L_ME_OS4_r, L_ME_OS5_r],
  [L_CO_OS2_r, L_CO_OS3_r, L_CO_OS4_r, L_CO_OS5_r],
  [L_CB_OS2_r, L_CB_OS3_r, L_CB_OS4_r, L_CB_OS5_r],
  [L_CA_OS2_r, L_CA_OS3_r, L_CA_OS4_r, L_CA_OS5_r],
  [L_BH_OS2_r, L_BH_OS3_r, L_BH_OS4_r, L_BH_OS5_r],
  [L_AP_OS2_r, L_AP_OS3_r, L_AP_OS4_r, L_AP_OS5_r],
];
const RIGHT_GREEN = [
  [R_ST_OS2_g, R_ST_OS3_g, R_ST_OS4_g, R_ST_OS5_g],
  [R_PE_OS2_g, R_PE_OS3_g, R_PE_OS4_g, R_PE_OS5_g],
  [R_OS_OS2_g, R_OS_OS3_g, R_OS_OS4_g, R_OS_OS5_g],
  [R_ME_OS2_g, R_ME_OS3_g, R_ME_OS4_g, R_ME_OS5_g],
  [R_CO_OS2_g, R_CO_OS3_g, R_CO_OS4_g, R_CO_OS5_g],
  [R_CB_OS2_g, R_CB_OS3_g, R_CB_OS4_g, R_CB_OS5_g],
  [R_CA_OS2_g, R_CA_OS3_g, R_CA_OS4_g, R_CA_OS5_g],
  [R_BH_OS2_g, R_BH_OS3_g, R_BH_OS4_g, R_BH_OS5_g],
  [R_AP_OS2_g, R_AP_OS3_g, R_AP_OS4_g, R_AP_OS5_g],
];
const RIGHT_RED = [
  [R_ST_OS2_r, R_ST_OS3_r, R_ST_OS4_r, R_ST_OS5_r],
  [R_PE_OS2_r, R_PE_OS3_r, R_PE_OS4_r, R_PE_OS5_r],
  [R_OS_OS2_r, R_OS_OS3_r, R_OS_OS4_r, R_OS_OS5_r],
  [R_ME_OS2_r, R_ME_OS3_r, R_ME_OS4_r, R_ME_OS5_r],
  [R_CO_OS2_r, R_CO_OS3_r, R_CO_OS4_r, R_CO_OS5_r],
  [R_CB_OS2_r, R_CB_OS3_r, R_CB_OS4_r, R_CB_OS5_r],
  [R_CA_OS2_r, R_CA_OS3_r, R_CA_OS4_r, R_CA_OS5_r],
  [R_BH_OS2_r, R_BH_OS3_r, R_BH_OS4_r, R_BH_OS5_r],
  [R_AP_OS2_r, R_AP_OS3_r, R_AP_OS4_r, R_AP_OS5_r],
];

const BLOCKS = [
  { stations: LEFT_STATIONS, freqs: [L_F2, L_F3, L_F4, L_F5], xRanges: LEFT_X_RANGES, yMax: LEFT_Y_MAX, yLabels: LEFT_Y_LABELS, green: LEFT_GREEN, red: LEFT_RED,
    colEdges: [37.7, 149, 262.7, 374, 487], top: 9.3, rowH: 67.3, titleX: 280 },
  { stations: RIGHT_STATIONS, freqs: [R_F2, R_F3, R_F4, R_F5], xRanges: RIGHT_X_RANGES, yMax: RIGHT_Y_MAX, yLabels: RIGHT_Y_LABELS, green: RIGHT_GREEN, red: RIGHT_RED,
    colEdges: [541.7, 654.3, 767.3, 879.3, 991.7], top: 7.3, rowH: 67.44, titleX: 785 },
];

const GREEN = "#2f8a3c";
const RED = "#f23a3a";
const SANS = "'Liberation Sans', Arial, sans-serif";
const MONO = "'Liberation Mono', 'DejaVu Sans Mono', monospace";

function stepTicks(min: number, max: number, step: number) {
  const out: number[] = [];
  let k = Math.ceil(min / step - 1e-6);
  while (k * step <= max + 1e-9) { out.push(+(k * step).toFixed(4)); k++; }
  return out;
}

function buildOption() {
  const grid: any[] = [], xAxis: any[] = [], yAxis: any[] = [], series: any[] = [], graphic: any[] = [];
  const xExtra: any[] = [], yExtra: any[] = [];
  const line = { show: true, onZero: false, lineStyle: { color: "#000", width: 1 } };
  const noLine = { show: false, onZero: false };
  const tickStyle = { color: "#000", width: 1 };
  BLOCKS.forEach((b) => {
    for (let r = 0; r < 9; r++) {
      for (let c = 0; c < 4; c++) {
        const gi = grid.length;
        const left = b.colEdges[c], right = b.colEdges[c + 1];
        const top = b.top + r * b.rowH;
        grid.push({ left, top, width: right - left, height: b.rowH, containLabel: false });
        const [xmin, xmax] = b.xRanges[c];
        const xt = stepTicks(xmin, xmax, 0.005);
        const ymax = b.yMax[c];
        const yt = stepTicks(0.5, ymax - 0.05, 1);
        const bottomRow = r === 8;
        xAxis.push({ gridIndex: gi, type: "value", position: "bottom", min: xmin, max: xmax, axisLine: line,
          axisTick: { show: true, inside: true, length: 4, customValues: xt, lineStyle: tickStyle },
          axisLabel: { show: bottomRow, customValues: X_TICK_LABELS[c], formatter: (v: number) => v.toFixed(2), margin: 2, fontSize: 10.5, fontFamily: SANS, color: "#111" },
          splitLine: { show: false } });
        xAxis.push({ gridIndex: gi, type: "value", position: "top", min: xmin, max: xmax, axisLine: line,
          axisTick: { show: true, inside: true, length: 4, customValues: xt, lineStyle: tickStyle },
          axisLabel: { show: false }, splitLine: { show: false } });
        if (bottomRow) {
          xExtra.push({ gridIndex: gi, type: "value", position: "bottom", min: xmin, max: xmax, axisLine: noLine,
            axisTick: { show: true, inside: false, length: 3.5, customValues: X_TICK_LABELS[c], lineStyle: tickStyle },
            axisLabel: { show: false }, splitLine: { show: false } });
        }
        yAxis.push({ gridIndex: gi, type: "value", position: "left", min: 0, max: ymax, axisLine: line,
          axisTick: { show: true, inside: true, length: 3.5, customValues: yt, lineStyle: tickStyle },
          axisLabel: { show: true, inside: true, align: "right", margin: 18.5, customValues: b.yLabels[c], fontSize: 10.5, fontFamily: SANS, color: "#111" },
          splitLine: { show: false } });
        yAxis.push({ gridIndex: gi, type: "value", position: "right", min: 0, max: ymax, axisLine: line,
          axisTick: { show: true, inside: true, length: 3.5, customValues: yt, lineStyle: tickStyle },
          axisLabel: { show: false }, splitLine: { show: false } });
        yExtra.push({ gridIndex: gi, type: "value", position: "left", min: 0, max: ymax, axisLine: noLine,
          axisTick: { show: true, inside: false, length: 3.5, customValues: b.yLabels[c], lineStyle: tickStyle },
          axisLabel: { show: false }, splitLine: { show: false } });
        const fx = b.freqs[c];
        const red = b.red[r][c], green = b.green[r][c];
        series.push({ type: "line", xAxisIndex: 2 * gi, yAxisIndex: 2 * gi, data: fx.map((x, i) => [x, red[i]]),
          showSymbol: false, symbol: "none", smooth: 0.35, clip: true, silent: true, z: 2,
          lineStyle: { color: RED, width: 1.2 } });
        series.push({ type: "line", xAxisIndex: 2 * gi, yAxisIndex: 2 * gi, data: fx.map((x, i) => [x, green[i]]),
          showSymbol: false, symbol: "none", smooth: 0.35, clip: true, silent: true, z: 3,
          lineStyle: { color: GREEN, width: 1.2, opacity: 0.85 } });
        graphic.push({ type: "text", x: right - 3.5, y: top + 12.5, silent: true,
          style: { text: MODE_LABELS[c], fill: "#111", font: `bold 10.5px ${MONO}`, textAlign: "right", textVerticalAlign: "middle", align: "right", verticalAlign: "middle" } });
        if (c === 3) {
          graphic.push({ type: "text", x: right - 4.5, y: top + b.rowH - 9.5, silent: true,
            style: { text: b.stations[r], fill: "#111", font: `bold 12.5px ${MONO}`, textAlign: "right", textVerticalAlign: "middle", align: "right", verticalAlign: "middle" } });
        }
      }
    }
    graphic.push({ type: "text", x: b.titleX, y: 639, silent: true,
      style: { text: "frequency (mHz)", fill: "#000", font: `20px ${SANS}`, textAlign: "center", textVerticalAlign: "middle", align: "center", verticalAlign: "middle" } });
  });
  const vtitle = (x: number) => ({
    type: "text", x, y: 312, rotation: Math.PI / 2, silent: true,
    style: { text: "amplitude (nGal)", fill: "#000", font: `20px ${SANS}`, textAlign: "center", textVerticalAlign: "middle", align: "center", verticalAlign: "middle" },
  });
  graphic.push(vtitle(17));
  graphic.push(vtitle(1010));
  return { animation: false, backgroundColor: "#fff", grid, xAxis: xAxis.concat(xExtra), yAxis: yAxis.concat(yExtra), series, graphic };
}

export default function App() {
  const ref = useRef<HTMLDivElement>(null);
  useEffect(() => {
    if (!ref.current) return;
    const chart = echarts.init(ref.current, null, { renderer: "svg" });
    chart.setOption(buildOption() as any);
    return () => chart.dispose();
  }, []);
  return <div ref={ref} style={{ position: "absolute", left: 0, top: 0, width: 1024, height: 653, background: "#fff" }} />;
}
